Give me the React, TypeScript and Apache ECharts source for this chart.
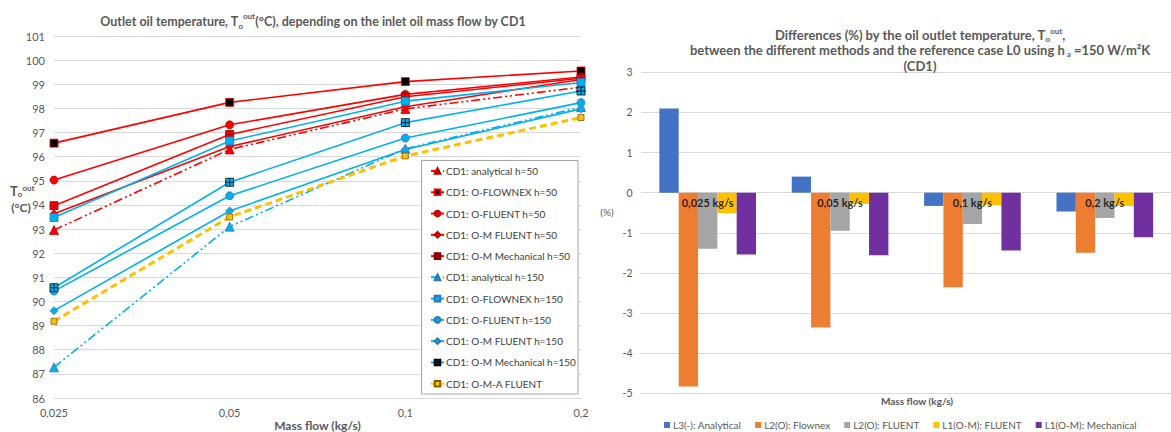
import React, { useEffect, useRef } from "react";
import * as echarts from "echarts";

// Left chart: outlet oil temperature (°C) per inlet mass flow
const massFlow = ["0,025", "0,05", "0,1", "0,2"];
const analyticalH50 = [92.96, 96.3, 97.98, 98.88];
const flownexH50 = [96.56, 98.25, 99.11, 99.55];
const fluentH50 = [95.03, 97.32, 98.58, 99.3];
const omFluentH50 = [93.63, 96.42, 98.07, 99.2];
const omMechanicalH50 = [93.97, 96.92, 98.48, 99.25];
const analyticalH150 = [87.27, 93.1, 96.33, 98.05];
const flownexH150 = [93.48, 96.65, 98.3, 99.07];
const fluentH150 = [90.43, 94.38, 96.77, 98.24];
const omFluentH150 = [89.62, 93.75, 96.3, 97.98];
const omMechanicalH150 = [90.57, 94.94, 97.41, 98.72];
const omaFluent = [89.18, 93.5, 96.03, 97.62];

// Right chart: differences (%) against reference case L0
const diffCategories = ["0,025 kg/s", "0,05 kg/s", "0,1 kg/s", "0,2 kg/s"];
const diffL3Analytical = [2.1, 0.4, -0.33, -0.47];
const diffL2Flownex = [-4.83, -3.36, -2.36, -1.5];
const diffL2Fluent = [-1.4, -0.95, -0.78, -0.63];
const diffL1Fluent = [-0.51, -0.28, -0.31, -0.33];
const diffL1Mechanical = [-1.54, -1.56, -1.44, -1.11];

const FONT = "Lato, 'Open Sans', sans-serif";
const GREY_TEXT = "#595959";
const GRID_LINE = "#d9d9d9";
const RED = "#ff0000";
const BLUE = "#00b0f0";
const GOLD = "#ffc000";
const PLUS_SQUARE = "path://M0,0H10V10H0Z M5,0V10 M0,5H10";
const DASH_DOT_DOT = [9, 3, 2, 3, 2, 3];

const supSub = {
  sup: { fontSize: 8, verticalAlign: "top", fontWeight: "bold", color: GREY_TEXT, fontFamily: FONT, lineHeight: 14 },
  sub: { fontSize: 8, verticalAlign: "bottom", fontWeight: "bold", color: GREY_TEXT, fontFamily: FONT, lineHeight: 14 },
};

function lineSeries(
  name: string,
  data: number[],
  color: string,
  symbol: string,
  symbolSize: number,
  extra: { fill?: string; border?: string; dash?: any; width?: number } = {}
) {
  return {
    name,
    type: "line",
    xAxisIndex: 0,
    yAxisIndex: 0,
    data,
    symbol,
    symbolSize,
    lineStyle: { color, width: extra.width ?? 1.6, type: extra.dash ?? "solid" },
    itemStyle: {
      color: extra.fill ?? color,
      borderColor: extra.border ?? color,
      borderWidth: 0.8,
    },
    z: 2,
  };
}

function barSeries(name: string, data: number[], color: string) {
  return {
    name,
    type: "bar",
    xAxisIndex: 1,
    yAxisIndex: 1,
    data,
    barGap: "0%",
    barCategoryGap: "27%",
    itemStyle: { color },
    z: 2,
  };
}

export default function App() {
  const ref = useRef<HTMLDivElement>(null);

  useEffect(() => {
    if (!ref.current) return;
    const chart = echarts.init(ref.current, undefined, { renderer: "svg" });

    const lineSeriesList = [
      lineSeries("CD1: analytical h=50", analyticalH50, RED, "triangle", 9, { border: "#c00000", dash: DASH_DOT_DOT }),
      lineSeries("CD1: O-FLOWNEX h=50", flownexH50, RED, "rect", 8, { fill: "#000000", border: RED }),
      lineSeries("CD1: O-FLUENT h=50", fluentH50, RED, "circle", 8, { border: "#c00000" }),
      lineSeries("CD1: O-M FLUENT h=50", omFluentH50, RED, "diamond", 8, { border: "#c00000" }),
      lineSeries("CD1: O-M Mechanical h=50", omMechanicalH50, RED, PLUS_SQUARE, 8, { border: "#7f0000" }),
      lineSeries("CD1: analytical h=150", analyticalH150, BLUE, "triangle", 9, { border: "#2e75b6", dash: DASH_DOT_DOT }),
      lineSeries("CD1: O-FLOWNEX h=150", flownexH150, BLUE, "rect", 8, { border: "#2e75b6" }),
      lineSeries("CD1: O-FLUENT h=150", fluentH150, BLUE, "circle", 8, { border: "#2e75b6" }),
      lineSeries("CD1: O-M FLUENT h=150", omFluentH150, BLUE, "diamond", 8, { border: "#2e75b6" }),
      lineSeries("CD1: O-M Mechanical h=150", omMechanicalH150, BLUE, PLUS_SQUARE, 8, { border: "#000000" }),
      lineSeries("CD1: O-M-A FLUENT", omaFluent, GOLD, "rect", 6, { border: "#7f6000", dash: [7, 4], width: 3 }),
    ];

    const barSeriesList = [
      barSeries("L3(-): Analytical", diffL3Analytical, "#4472c4"),
      barSeries("L2(O): Flownex", diffL2Flownex, "#ed7d31"),
      barSeries("L2(O): FLUENT", diffL2Fluent, "#a5a5a5"),
      barSeries("L1(O-M): FLUENT", diffL1Fluent, GOLD),
      barSeries("L1(O-M): Mechanical", diffL1Mechanical, "#7030a0"),
    ];

    // Category names drawn just below the zero line of the bar chart
    const zeroLineLabels = {
      name: "category-labels",
      type: "scatter",
      xAxisIndex: 1,
      yAxisIndex: 1,
      data: diffCategories.map((c) => ({ name: c, value: [c, 0] })),
      symbolSize: 0,
      silent: true,
      z: 10,
      label: {
        show: true,
        position: "bottom",
        distance: 4,
        formatter: "{b}",
        color: "#000000",
        fontSize: 11,
        fontWeight: "bold",
        fontFamily: FONT,
      },
    };

    chart.setOption({
      animation: false,
      backgroundColor: "#ffffff",
      textStyle: { fontFamily: FONT },
      title: [
        {
          text: "Outlet oil temperature, T{sub|o}{sup|out}(°C), depending on the inlet oil mass flow by CD1",
          left: 308,
          top: 7,
          textAlign: "center",
          textStyle: {
            fontSize: 12.5,
            fontWeight: "bold",
            color: GREY_TEXT,
            fontFamily: FONT,
            lineHeight: 18,
            rich: supSub,
          },
        },
        {
          text:
            "Differences (%) by the oil outlet temperature, T{sub|o}{sup|out},\n" +
            "between the different methods and the reference case L0 using h{sub| a} =150 W/m²K\n" +
            "(CD1)",
          left: 915,
          top: 22,
          textAlign: "center",
          textStyle: {
            fontSize: 13,
            fontWeight: "bold",
            color: GREY_TEXT,
            fontFamily: FONT,
            lineHeight: 15.5,
            rich: supSub,
          },
        },
      ],
      grid: [
        { left: 54, top: 36, width: 527, height: 362 },
        { left: 641.5, top: 72.3, width: 548, height: 321 },
      ],
      xAxis: [
        {
          gridIndex: 0,
          type: "category",
          data: massFlow,
          boundaryGap: false,
          axisLine: { show: true, lineStyle: { color: GRID_LINE } },
          axisTick: { show: false },
          axisLabel: { color: GREY_TEXT, fontSize: 11, margin: 9, fontFamily: FONT },
          splitLine: { show: false },
        },
        {
          gridIndex: 1,
          type: "category",
          data: diffCategories,
          axisLine: { show: true, lineStyle: { color: GRID_LINE } },
          axisTick: { show: false },
          axisLabel: { show: false },
          splitLine: { show: false },
        },
      ],
      yAxis: [
        {
          gridIndex: 0,
          type: "value",
          min: 86,
          max: 101,
          interval: 1,
          axisLine: { show: false },
          axisTick: { show: false },
          axisLabel: { color: GREY_TEXT, fontSize: 11, margin: 9, fontFamily: FONT },
          splitLine: { lineStyle: { color: GRID_LINE, width: 1 } },
        },
        {
          gridIndex: 1,
          type: "value",
          min: -5,
          max: 3,
          interval: 1,
          axisLine: { show: false },
          axisTick: { show: false },
          axisLabel: { color: GREY_TEXT, fontSize: 10.5, margin: 9, fontFamily: FONT },
          splitLine: { lineStyle: { color: GRID_LINE, width: 1 } },
        },
      ],
      legend: [
        {
          data: lineSeriesList.map((s) => s.name),
          orient: "vertical",
          left: 422,
          top: 161,
          padding: [3, 0, 3, 8],
          itemWidth: 13,
          itemHeight: 7,
          itemGap: 7.27,
          selectedMode: false,
          z: 8,
          textStyle: { color: "#404040", fontSize: 10, lineHeight: 14, fontFamily: FONT, padding: [0, 0, 0, -3] },
        },
        {
          data: barSeriesList.map((s) => s.name),
          orient: "horizontal",
          left: 664,
          top: 420,
          padding: 0,
          itemWidth: 6,
          itemHeight: 6,
          itemGap: 14,
          selectedMode: false,
          icon: "rect",
          textStyle: { color: GREY_TEXT, fontSize: 10, fontFamily: FONT, padding: [0, 0, 0, -2] },
        },
      ],
      graphic: [
        {
          type: "rect",
          z: 7,
          shape: { x: 421.5, y: 160.5, width: 156.5, height: 233.5 },
          style: { fill: "#ffffff", stroke: "#a6a6a6", lineWidth: 1 },
        },
        {
          type: "text",
          z: 7,
          style: {
            text: "T{sub|o}{sup|out}",
            x: 10,
            y: 191,
            textVerticalAlign: "middle",
            fontSize: 13,
            fontWeight: "bold",
            fill: GREY_TEXT,
            fontFamily: FONT,
            rich: supSub,
          },
        },
        {
          type: "text",
          z: 7,
          style: {
            text: "(°C)",
            x: 21,
            y: 207,
            textAlign: "center",
            textVerticalAlign: "middle",
            fontSize: 12,
            fontWeight: "bold",
            fill: GREY_TEXT,
            fontFamily: FONT,
          },
        },
        {
          type: "text",
          z: 7,
          style: {
            text: "Mass flow (kg/s)",
            x: 317.5,
            y: 425,
            textAlign: "center",
            textVerticalAlign: "middle",
            fontSize: 12,
            fontWeight: "bold",
            fill: GREY_TEXT,
            fontFamily: FONT,
          },
        },
        {
          type: "text",
          z: 7,
          style: {
            text: "(%)",
            x: 607,
            y: 212,
            textAlign: "center",
            textVerticalAlign: "middle",
            fontSize: 10,
            fill: GREY_TEXT,
            fontFamily: FONT,
          },
        },
        {
          type: "text",
          z: 7,
          style: {
            text: "Mass flow (kg/s)",
            x: 917,
            y: 401,
            textAlign: "center",
            textVerticalAlign: "middle",
            fontSize: 10,
            fontWeight: "bold",
            fill: GREY_TEXT,
            fontFamily: FONT,
          },
        },
      ],
      series: [...lineSeriesList, ...barSeriesList, zeroLineLabels],
    });

    return () => chart.dispose();
  }, []);

  return (
    <div
      ref={ref}
      style={{ position: "absolute", left: 0, top: 0, width: 1171, height: 432, background: "#ffffff" }}
    />
  );
}
